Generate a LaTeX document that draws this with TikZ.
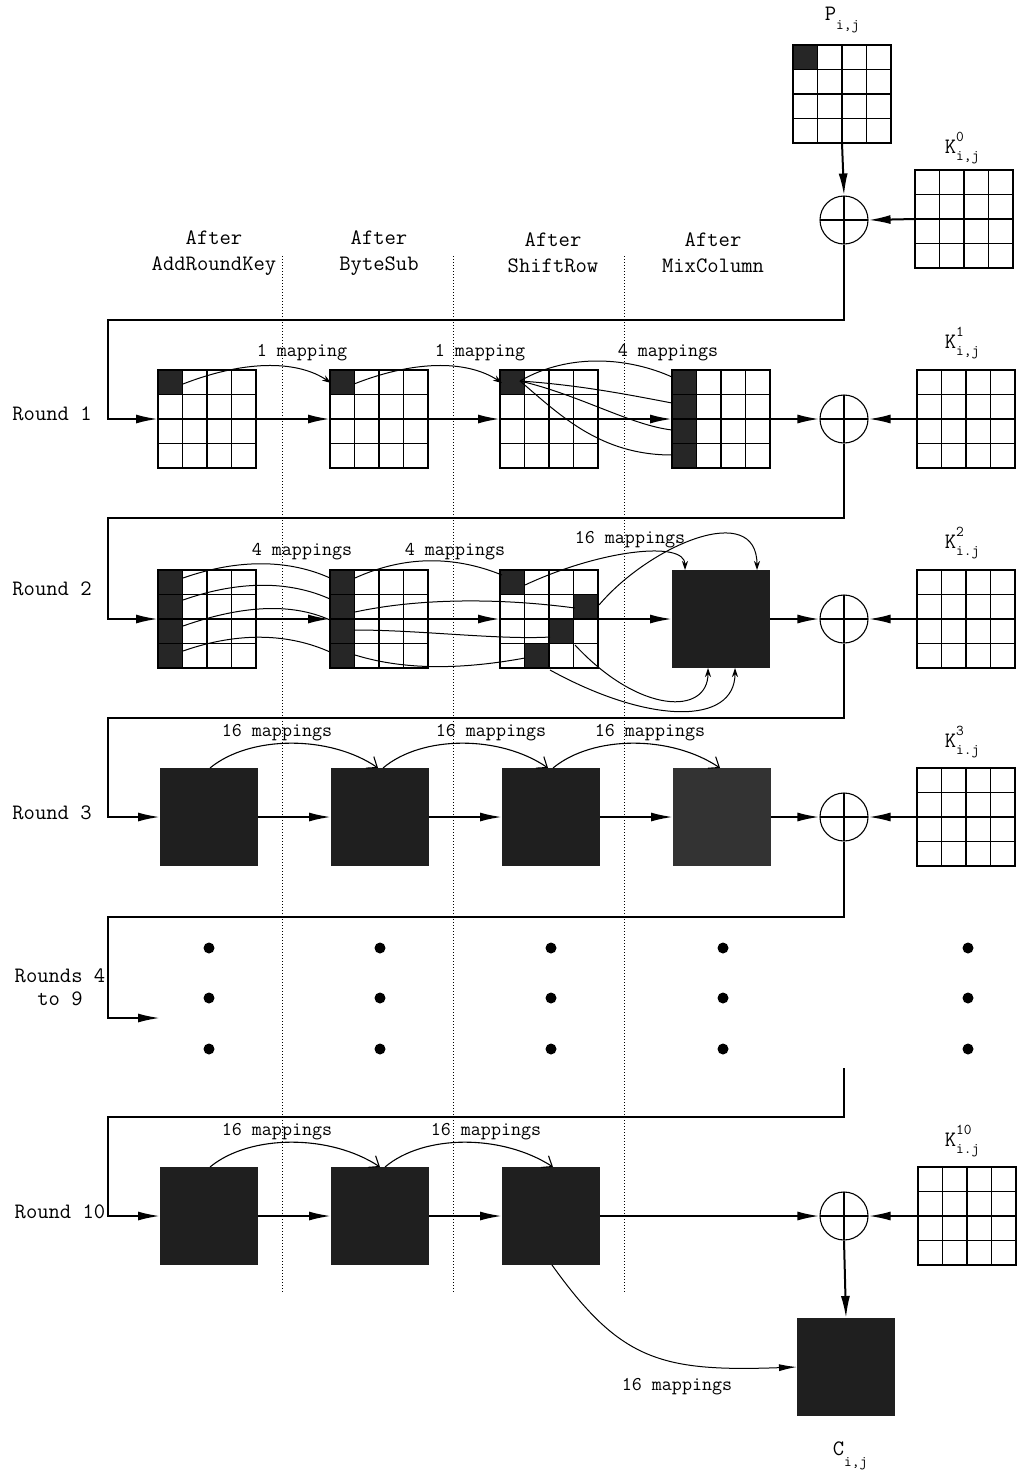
\documentclass[tikz,border=0pt]{standalone}
\usetikzlibrary{arrows.meta,calc}
\newcommand\cw{24.5}
\newcommand\subsz{\fontsize{15}{16}\selectfont}
\newcommand\kk[2]{K\rlap{\raisebox{0.55em}{\subsz #1}}\raisebox{-0.35em}{\subsz #2}}
\tikzset{
  gridbox/.style={rectangle, minimum size=98pt, inner sep=0pt, outer sep=0pt},
  darkcell/.style={fill=black!85},
  fulldark/.style={gridbox, fill=black!88},
  gridline/.style={line width=1.1pt},
  flowline/.style={line width=2pt},
  flow/.style={line width=2pt, -{Latex[length=22pt,width=9pt]}},
  xorc/.style={circle, draw, line width=1.1pt, minimum size=48pt, inner sep=0pt,
    path picture={\draw[line width=1.1pt] (path picture bounding box.north) -- (path picture bounding box.south)
      (path picture bounding box.west) -- (path picture bounding box.east);}},
  mapc/.style={line width=1pt},
  maparr/.style={line width=1pt, -{Stealth[length=9pt,width=6pt]}},
  openarr/.style={line width=1.1pt, -{Straight Barb[length=9pt,width=14pt]}},
  hdr/.style={font=\ttfamily\fontsize{22}{26}\selectfont, align=center, inner sep=0pt},
  lbl/.style={font=\ttfamily\fontsize{19.5}{22}\selectfont, inner sep=0pt},
  rnd/.style={font=\ttfamily\fontsize{22}{23}\selectfont, align=center, inner sep=0pt},
  keyl/.style={font=\ttfamily\fontsize{22}{24}\selectfont, inner sep=0pt},
  vsep/.style={dotted, line width=1pt},
}
\newcommand\mkgrid[3]{%
  \node[gridbox] (#1) at (#2) {};
  \ifx\relax#3\relax\else
  \foreach \rr/\cc in {#3} {\fill[darkcell] ($(#1.north west)+(\cc*\cw,\rr*\cw)$) rectangle ++(\cw,\cw);}
  \fi
  \foreach \k in {1,2,3} {
    \draw[gridline] ($(#1.north west)+(\k*\cw,0)$) -- ++(0,4*\cw);
    \draw[gridline] ($(#1.north west)+(0,\k*\cw)$) -- ++(4*\cw,0);
  }
  \draw[gridline] (#1.north west) rectangle (#1.south east);
}
\begin{document}
\begin{tikzpicture}[x=1pt,y=-1pt]
\useasboundingbox (0,0) rectangle (1017,1478);

% column headers
\node[hdr] (h1) at (214,253) {After\\AddRoundKey};
\node[hdr] (h2) at (379,253) {After\\ByteSub};
\node[hdr] (h3) at (553,253) {After\\ShiftRow};
\node[hdr] (h4) at (713,253) {After\\MixColumn};

% dotted separators
\foreach \xx in {282,453,624} {\draw[vsep] (\xx,256) -- (\xx,1292);}

% plaintext and initial key
\mkgrid{pg}{842,94}{0/0}
\node[keyl] (pl) at (842,20) {P\raisebox{-0.45em}{\subsz i,j}};
\mkgrid{k0}{964,219}{}
\node[keyl] (k0l) at (962,148) {\kk{0}{i,j}};
\node[xorc] (x0) at (844,220) {};
\draw[flow] (pg.south) -- (x0.north);
\draw[flow] (k0.west) -- (x0.east);

% ---------------- Round 1
\node[rnd] (r1) at (52,414) {Round 1};
\mkgrid{g11}{207,419}{0/0}
\mkgrid{g12}{379,419}{0/0}
\mkgrid{g13}{549,419}{0/0}
\mkgrid{g14}{721,419}{0/0,1/0,2/0,3/0}
\mkgrid{k1}{966,419}{}
\node[keyl] (k1l) at (962,343) {\kk{1}{i,j}};
\node[xorc] (x1) at (844,419) {};
\coordinate (l1) at (108,320);
\draw[flow] (x0.south) |- (l1) |- (g11.west);
\draw[flow] (g11.east) -- (g12.west);
\draw[flow] (g12.east) -- (g13.west);
\draw[flow] (g13.east) -- (g14.west);
\draw[flow] (g14.east) -- (x1.west);
\draw[flow] (k1.west) -- (x1.east);
\draw[maparr] ($(g11.north west)+(25,14)$) .. controls (250,358) and (300,362) .. ($(g12.north west)+(1,13)$);
\draw[maparr] ($(g12.north west)+(24,14)$) .. controls (420,358) and (470,362) .. ($(g13.north west)+(2,13)$);
\draw[mapc] ($(g13.north west)+(20,11)$) .. controls (570,352) and (630,358) .. ($(g14.north west)+(0,7)$);
\draw[mapc] ($(g13.north west)+(20,11)$) .. controls (580,385) and (630,395) .. ($(g14.north west)+(0,33)$);
\draw[mapc] ($(g13.north west)+(20,11)$) .. controls (580,395) and (630,425) .. ($(g14.north west)+(0,60)$);
\draw[mapc] ($(g13.north west)+(20,11)$) .. controls (560,415) and (600,455) .. ($(g14.north west)+(0,85)$);
\node[lbl] (m11) at (302,353) {1 mapping};
\node[lbl] (m12) at (480,353) {1 mapping};
\node[lbl] (m13) at (668,353) {4 mappings};

% ---------------- Round 2
\node[rnd] (r2) at (52,589) {Round 2};
\mkgrid{g21}{207,619}{0/0,1/0,2/0,3/0}
\mkgrid{g22}{379,619}{0/0,1/0,2/0,3/0}
\mkgrid{g23}{549,619}{0/0,1/3,2/2,3/1}
\node[fulldark] (g24) at (721,619) {};
\mkgrid{k2}{966,619}{}
\node[keyl] (k2l) at (962,543) {\kk{2}{i.j}};
\node[xorc] (x2) at (844,619) {};
\coordinate (l2) at (108,518);
\draw[flow] (x1.south) |- (l2) |- (g21.west);
\draw[flow] (g21.east) -- (g22.west);
\draw[flow] (g22.east) -- (g23.west);
\draw[flow] (g23.east) -- (g24.west);
\draw[flow] (g24.east) -- (x2.west);
\draw[flow] (k2.west) -- (x2.east);
\foreach \ya/\yb in {8/8,30/29,56/50,81/82} {
  \draw[mapc] ($(g21.north west)+(25,\ya)$) .. controls ($(g21.north west)+(82,\ya-20)$) and ($(g22.north west)+(-40,\yb-18)$) .. ($(g22.north west)+(0,\yb)$);
}
\draw[mapc] ($(g22.north west)+(25,8)$) .. controls (410,553) and (460,558) .. ($(g23.north west)+(2,5)$);
\draw[mapc] ($(g22.north west)+(25,42)$) .. controls (420,598) and (500,598) .. ($(g23.north west)+(75,38)$);
\draw[mapc] ($(g22.north west)+(25,60)$) .. controls (420,630) and (500,640) .. ($(g23.north west)+(50,67)$);
\draw[mapc] ($(g22.north west)+(25,85)$) .. controls (410,672) and (470,668) .. ($(g23.north west)+(25,88)$);
\draw[maparr] ($(g23.north west)+(25,15)$) .. controls (600,550) and (685,540) .. ($(g24.north west)+(13,0)$);
\draw[maparr] ($(g23.north west)+(99,35)$) .. controls (650,545) and (757,500) .. ($(g24.north west)+(85,0)$);
\draw[maparr] ($(g23.north west)+(75,75)$) .. controls (640,715) and (708,715) .. ($(g24.north west)+(36,98)$);
\draw[maparr] ($(g23.north west)+(50,100)$) .. controls (650,725) and (735,725) .. ($(g24.north west)+(63,98)$);
\node[lbl] (m21) at (302,552) {4 mappings};
\node[lbl] (m22) at (455,552) {4 mappings};
\node[lbl] (m23) at (630,540) {16 mappings};

% ---------------- Round 3
\node[rnd] (r3) at (52,813) {Round 3};
\node[fulldark] (g31) at (209,817) {};
\node[fulldark] (g32) at (380,817) {};
\node[fulldark] (g33) at (551,817) {};
\node[gridbox, fill=black!80] (g34) at (722,817) {};
\mkgrid{k3}{966,817}{}
\node[keyl] (k3l) at (962,742) {\kk{3}{i.j}};
\node[xorc] (x3) at (844,817) {};
\coordinate (l3) at (108,718);
\draw[flow] (x2.south) |- (l3) |- (g31.west);
\draw[flow] (g31.east) -- (g32.west);
\draw[flow] (g32.east) -- (g33.west);
\draw[flow] (g33.east) -- (g34.west);
\draw[flow] (g34.east) -- (x3.west);
\draw[flow] (k3.west) -- (x3.east);
\draw[openarr] ($(g31.north west)+(50,0)$) .. controls (250,735) and (330,735) .. ($(g32.north west)+(47,0)$);
\draw[openarr] ($(g32.north west)+(52,0)$) .. controls (422,735) and (500,735) .. ($(g33.north west)+(46,0)$);
\draw[openarr] ($(g33.north west)+(51,0)$) .. controls (593,735) and (671,735) .. ($(g34.north west)+(47,0)$);
\node[lbl] (m31) at (277,733) {16 mappings};
\node[lbl] (m32) at (491,733) {16 mappings};
\node[lbl] (m33) at (650,733) {16 mappings};

% ---------------- Rounds 4 to 9
\node[rnd] (r4) at (60,987) {Rounds 4\\to 9};
\coordinate (l4) at (108,917);
\coordinate (e4) at (160,1018);
\draw[flow] (x3.south) |- (l4) |- (e4);
\foreach \xx in {209,380,551,723,968} {
  \foreach \yy in {948,998,1049} {\fill (\xx,\yy) circle[radius=5.5];}
}

% ---------------- Round 10
\node[rnd] (r10) at (60,1212) {Round 10};
\node[fulldark] (g101) at (209,1216) {};
\node[fulldark] (g102) at (380,1216) {};
\node[fulldark] (g103) at (551,1216) {};
\mkgrid{k10}{967,1216}{}
\node[keyl] (k10l) at (962,1141) {\kk{10}{i.j}};
\node[xorc] (x10) at (844,1216) {};
\coordinate (s10) at (844,1068);
\coordinate (l10) at (108,1117);
\draw[flow] (s10) |- (l10) |- (g101.west);
\draw[flow] (g101.east) -- (g102.west);
\draw[flow] (g102.east) -- (g103.west);
\draw[flow] (g103.east) -- (x10.west);
\draw[flow] (k10.west) -- (x10.east);
\draw[openarr] ($(g101.north west)+(50,0)$) .. controls (250,1134) and (330,1134) .. ($(g102.north west)+(49,0)$);
\draw[openarr] ($(g102.north west)+(54,0)$) .. controls (424,1134) and (502,1134) .. ($(g103.north west)+(51,0)$);
\node[lbl] (m101) at (277,1132) {16 mappings};
\node[lbl] (m102) at (486,1132) {16 mappings};

% ciphertext
\node[fulldark] (cg) at (846,1367) {};
\draw[flow] (x10.south) -- (cg.north);
\draw[line width=1pt, -{Latex[length=18pt,width=7pt]}] ($(g103.north west)+(50,98)$) .. controls (620,1360) and (660,1372) .. (cg.west);
\node[lbl] (m103) at (677,1387) {16 mappings};
\node[keyl] (cl) at (850,1456) {C\raisebox{-0.5em}{\subsz i,j}};
\end{tikzpicture}
\end{document}
